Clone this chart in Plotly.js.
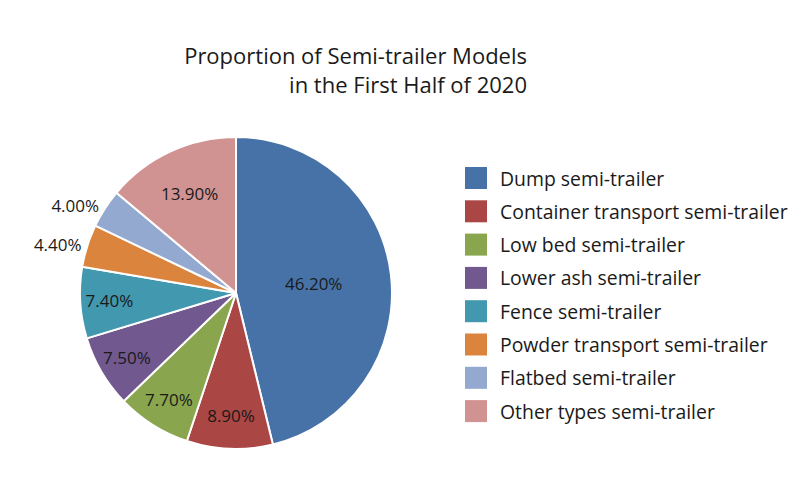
<!DOCTYPE html>
<html>
<head>
<meta charset="utf-8">
<script src="https://cdn.plot.ly/plotly-3.0.0.min.js"></script>
<style>html,body{margin:0;padding:0;background:#fff}</style>
</head>
<body>
<div id="chart" style="width:800px;height:500px"></div>
<script>
const categories = [
  'Dump semi-trailer',
  'Container transport semi-trailer',
  'Low bed semi-trailer',
  'Lower ash semi-trailer',
  'Fence semi-trailer',
  'Powder transport semi-trailer',
  'Flatbed semi-trailer',
  'Other types semi-trailer'
];
const shares = [46.2, 8.9, 7.7, 7.5, 7.4, 4.4, 4.0, 13.9];
const sliceColors = ['#4672A8', '#AA4643', '#89A54E', '#71588F', '#4198AF', '#DB843D', '#93A9CF', '#D19392'];
const labelPositions = ['inside', 'inside', 'inside', 'inside', 'inside', 'outside', 'outside', 'inside'];

const FONT = '"Open Sans", "Noto Sans", sans-serif';

const trace = {
  type: 'pie',
  labels: categories,
  values: shares,
  sort: false,
  direction: 'clockwise',
  rotation: 0,
  marker: { colors: sliceColors, line: { color: '#ffffff', width: 2 } },
  texttemplate: '%{value:.2f}%',
  textposition: labelPositions,
  insidetextorientation: 'horizontal',
  textfont: { family: FONT, size: 17, color: '#1a1a1a' },
  outsidetextfont: { family: FONT, size: 17, color: '#1a1a1a' },
  hoverinfo: 'label+percent',
  showlegend: false,
  domain: { x: [0.1, 0.49], y: [0.102, 0.726] }
};

// Legend built from the category and colour arrays
const legendTop = 178, legendStep = 33.3, swatch = 22;
const shapes = [], annotations = [];
categories.forEach((name, i) => {
  const cy = legendTop + i * legendStep;
  shapes.push({
    type: 'rect', xref: 'paper', yref: 'paper',
    x0: 465 / 800, x1: (465 + swatch) / 800,
    y0: 1 - (cy + swatch / 2) / 500, y1: 1 - (cy - swatch / 2) / 500,
    fillcolor: sliceColors[i], line: { width: 0 }
  });
  annotations.push({
    xref: 'paper', yref: 'paper', x: 498 / 800, y: 1 - cy / 500,
    xanchor: 'left', yanchor: 'middle', showarrow: false,
    text: name, font: { family: FONT, size: 19.4, color: '#1a1a1a' }
  });
});

const layout = {
  width: 800, height: 500,
  margin: { l: 0, r: 0, t: 0, b: 0 },
  paper_bgcolor: '#fff',
  title: {
    text: 'Proportion of Semi-trailer Models<br>in the First Half of 2020',
    x: 527 / 800, xanchor: 'right', xref: 'paper',
    y: 1 - 64 / 500, yanchor: 'top', yref: 'container',
    font: { family: FONT, size: 22, color: '#1a1a1a' }
  },
  shapes: shapes,
  annotations: annotations
};

Plotly.newPlot('chart', [trace], layout, { displayModeBar: false, staticPlot: true });
</script>
</body>
</html>
